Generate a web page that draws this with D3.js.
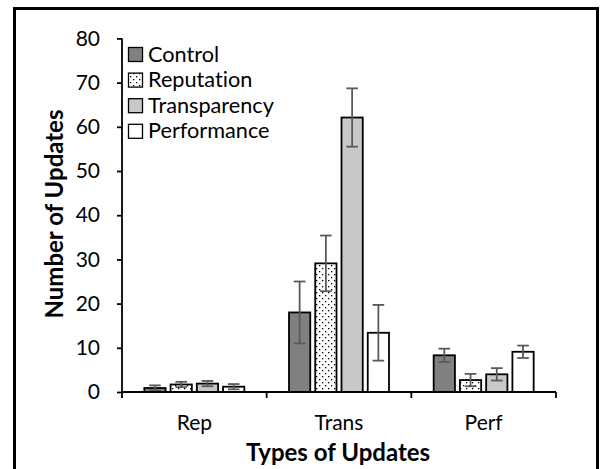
<!DOCTYPE html>
<html><head><meta charset="utf-8">
<script src="https://cdn.jsdelivr.net/npm/d3@7"></script>
<style>body{margin:0;background:#fff;} svg{display:block;} text{font-family:Lato,"Open Sans",sans-serif;fill:#000;font-variant-ligatures:none;font-feature-settings:"liga" 0,"dlig" 0;}</style>
</head><body>
<svg id="c" width="604" height="469"></svg>
<script>
const categories = ["Rep", "Trans", "Perf"];
const seriesNames = ["Control", "Reputation", "Transparency", "Performance"];
const control = [0.9, 18.0, 8.3];
const reputation = [1.7, 29.1, 2.7];
const transparency = [1.9, 62.1, 4.0];
const performance = [1.2, 13.4, 9.1];
const controlErr = [0.6, 7.0, 1.5];
const reputationErr = [0.6, 6.3, 1.4];
const transparencyErr = [0.6, 6.6, 1.4];
const performanceErr = [0.6, 6.3, 1.4];
const yTicks = [0, 10, 20, 30, 40, 50, 60, 70, 80];

const values = [control, reputation, transparency, performance];
const errs = [controlErr, reputationErr, transparencyErr, performanceErr];
const fills = ["#808080", "url(#dots)", "#c8c8c8", "#ffffff"];

const svg = d3.select("#c");
const defs = svg.append("defs");
const pat = defs.append("pattern").attr("id", "dots").attr("patternUnits", "userSpaceOnUse")
  .attr("width", 6).attr("height", 6);
pat.append("rect").attr("width", 6).attr("height", 6).attr("fill", "#fff");
pat.append("rect").attr("x", 1).attr("y", 1).attr("width", 1.3).attr("height", 1.3).attr("fill", "#000");
pat.append("rect").attr("x", 4).attr("y", 4).attr("width", 1.3).attr("height", 1.3).attr("fill", "#000");

// outer border
svg.append("path").attr("d", "M14.5,469 V8.5 H597.5 V469").attr("fill", "none")
  .attr("stroke", "#000").attr("stroke-width", 3);

const x0 = d3.scaleBand().domain(categories).range([122, 556]).paddingInner(0).paddingOuter(0);
const x1 = d3.scaleBand().domain(seriesNames).range([0, 100]).paddingInner(0.19).paddingOuter(0);
const y = d3.scaleLinear().domain([0, 80]).range([392, 38.4]);

const groupOffset = (x0.bandwidth() - 100) / 2;

// bars
seriesNames.forEach((s, si) => {
  categories.forEach((c, ci) => {
    const bx = x0(c) + groupOffset + x1(s);
    const v = values[si][ci];
    svg.append("rect").attr("x", bx).attr("y", y(v)).attr("width", x1.bandwidth())
      .attr("height", y(0) - y(v)).attr("fill", fills[si]).attr("stroke", "#000").attr("stroke-width", 1.8);
  });
});
// error bars
seriesNames.forEach((s, si) => {
  categories.forEach((c, ci) => {
    const cx = x0(c) + groupOffset + x1(s) + x1.bandwidth() / 2;
    const v = values[si][ci], e = errs[si][ci];
    const g = svg.append("g").attr("stroke", "#595959").attr("stroke-width", 1.8);
    g.append("line").attr("x1", cx).attr("x2", cx).attr("y1", y(v + e)).attr("y2", y(Math.max(0, v - e)));
    g.append("line").attr("x1", cx - 5.8).attr("x2", cx + 5.8).attr("y1", y(v + e)).attr("y2", y(v + e));
    g.append("line").attr("x1", cx - 5.8).attr("x2", cx + 5.8).attr("y1", y(Math.max(0, v - e))).attr("y2", y(Math.max(0, v - e)));
  });
});

// y axis
const yAxis = svg.append("g").attr("transform", "translate(122,0)")
  .call(d3.axisLeft(y).tickValues(yTicks).tickSize(5).tickPadding(17));
yAxis.select(".domain").attr("stroke", "#000").attr("stroke-width", 1.8).attr("d", "M0,392V38.4");
yAxis.selectAll(".tick line").attr("stroke", "#000").attr("stroke-width", 1.8);
yAxis.selectAll(".tick text").style("font-size", "21px").style("font-family", "Lato");

// x axis
const xAxis = svg.append("g").attr("transform", "translate(0,392)");
xAxis.append("line").attr("x1", 122).attr("x2", 556).attr("stroke", "#000").attr("stroke-width", 1.8);
const bounds = categories.map(c => x0(c)).concat([x0(categories[categories.length - 1]) + x0.bandwidth()]);
xAxis.selectAll("line.t").data(bounds).enter().append("line").attr("class", "t")
  .attr("x1", d => d).attr("x2", d => d).attr("y1", 0).attr("y2", 6).attr("stroke", "#000").attr("stroke-width", 1.8);
xAxis.selectAll("text").data(categories).enter().append("text")
  .attr("x", d => x0(d) + x0.bandwidth() / 2).attr("y", 37.5).attr("text-anchor", "middle")
  .style("font-size", "21px").text(d => d);

// titles
svg.append("text").attr("x", 338).attr("y", 461).attr("text-anchor", "middle")
  .style("font-size", "24px").style("font-weight", "bold").text("Types of Updates");
svg.append("text").attr("transform", "translate(63,214) rotate(-90)").attr("text-anchor", "middle")
  .style("font-size", "24px").style("font-weight", "bold").text("Number of Updates");

// legend
const leg = svg.append("g");
seriesNames.forEach((s, i) => {
  const base = 61.5 + i * 25.6;
  leg.append("rect").attr("x", 128.5).attr("y", base - 14).attr("width", 14).attr("height", 14)
    .attr("fill", fills[i]).attr("stroke", "#000").attr("stroke-width", 1.3);
  leg.append("text").attr("x", 148).attr("y", base).style("font-size", "21.7px").text(s);
});
</script>
</body></html>
